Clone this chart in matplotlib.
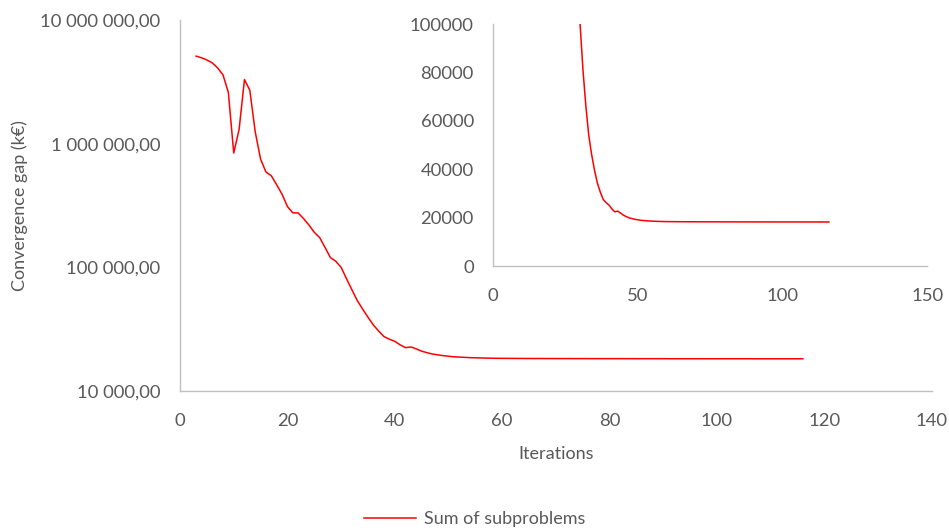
import matplotlib.pyplot as plt
from matplotlib.ticker import FuncFormatter, FixedLocator

plt.rcParams['font.family'] = ['Lato', 'DejaVu Sans']

# iterations and convergence gap (k€)
iterations = list(range(3, 117))
gap = [
    5.1e6, 4.95e6, 4.75e6, 4.5e6, 4.1e6, 3.6e6, 2.6e6, 8.4e5, 1.3e6, 3.3e6,     # 3-12
    2.7e6, 1.25e6, 7.5e5, 5.9e5, 5.5e5, 4.65e5, 3.9e5, 3.1e5, 2.76e5, 2.75e5,   # 13-22
    2.48e5, 2.2e5, 1.92e5, 1.74e5, 1.45e5, 1.2e5, 1.12e5, 1.0e5, 8.1e4, 6.6e4,  # 23-32
    5.4e4, 4.6e4, 3.95e4, 3.42e4, 3.05e4, 2.75e4, 2.62e4, 2.52e4, 2.36e4, 2.24e4,  # 33-42
    2.27e4, 2.19e4, 2.10e4, 2.04e4, 1.99e4, 1.96e4, 1.93e4, 1.91e4, 1.89e4, 1.88e4,  # 43-52
    18700, 18600, 18550, 18500, 18450, 18400, 18380, 18360, 18350, 18340,  # 53-62
    18330, 18320, 18310, 18300, 18300, 18290, 18290, 18280, 18280, 18280,  # 63-72
    18270, 18270, 18270, 18260, 18260, 18260, 18260, 18250, 18250, 18250,  # 73-82
    18250, 18250, 18240, 18240, 18240, 18240, 18240, 18240, 18230, 18230,  # 83-92
    18230, 18230, 18230, 18230, 18230, 18220, 18220, 18220, 18220, 18220,  # 93-102
    18220, 18220, 18220, 18220, 18210, 18210, 18210, 18210, 18210, 18210,  # 103-112
    18210, 18210, 18210, 18210,                                            # 113-116
]

main_xticks = [0, 20, 40, 60, 80, 100, 120, 140]
main_yticks = [1e4, 1e5, 1e6, 1e7]
inset_xticks = [0, 50, 100, 150]
inset_yticks = [0, 20000, 40000, 60000, 80000, 100000]

txt = '#595959'
spine = '#BFBFBF'
red = '#FF0000'


def fr_fmt(v, pos):
    s = f"{v:,.2f}"
    return s.replace(',', ' ').replace('.', ',')


fig = plt.figure(figsize=(9.49, 5.31), dpi=100)

ax = fig.add_axes([0.1897, 0.2637, 0.7921, 0.6987])
line, = ax.plot(iterations, gap, color=red, lw=1.1, label='Sum of subproblems')
ax.set_yscale('log')
ax.set_ylim(1e4, 1e7)
ax.set_xlim(0, 140)
ax.yaxis.set_major_locator(FixedLocator(main_yticks))
ax.yaxis.set_minor_locator(FixedLocator([]))
ax.yaxis.set_major_formatter(FuncFormatter(fr_fmt))
ax.set_xticks(main_xticks)
ax.set_xlabel('Iterations', color=txt, fontsize=13, labelpad=12)
ax.set_ylabel('Convergence gap (k€)', color=txt, fontsize=13, labelpad=9)

ins = fig.add_axes([0.5198, 0.499, 0.4573, 0.4557])
ins.plot(iterations, gap, color=red, lw=1.1)
ins.set_xlim(0, 150)
ins.set_ylim(0, 100000)
ins.set_xticks(inset_xticks)
ins.set_yticks(inset_yticks)
ins.set_yticklabels([str(v) for v in inset_yticks])

for a in (ax, ins):
    for s in ('top', 'right'):
        a.spines[s].set_visible(False)
    for s in ('left', 'bottom'):
        a.spines[s].set_color(spine)
        a.spines[s].set_linewidth(1.0)
    a.tick_params(length=0, labelcolor=txt, labelsize=13.3)
    a.tick_params(axis='y', pad=14)
    a.tick_params(axis='x', pad=16)
    a.patch.set_alpha(0)

leg = fig.legend(handles=[line], loc='center', bbox_to_anchor=(0.5, 1 - 519 / 531),
                 frameon=False, fontsize=13, handlelength=2.9, handletextpad=0.4,
                 labelcolor=txt)

plt.savefig('out.png', dpi=100)
